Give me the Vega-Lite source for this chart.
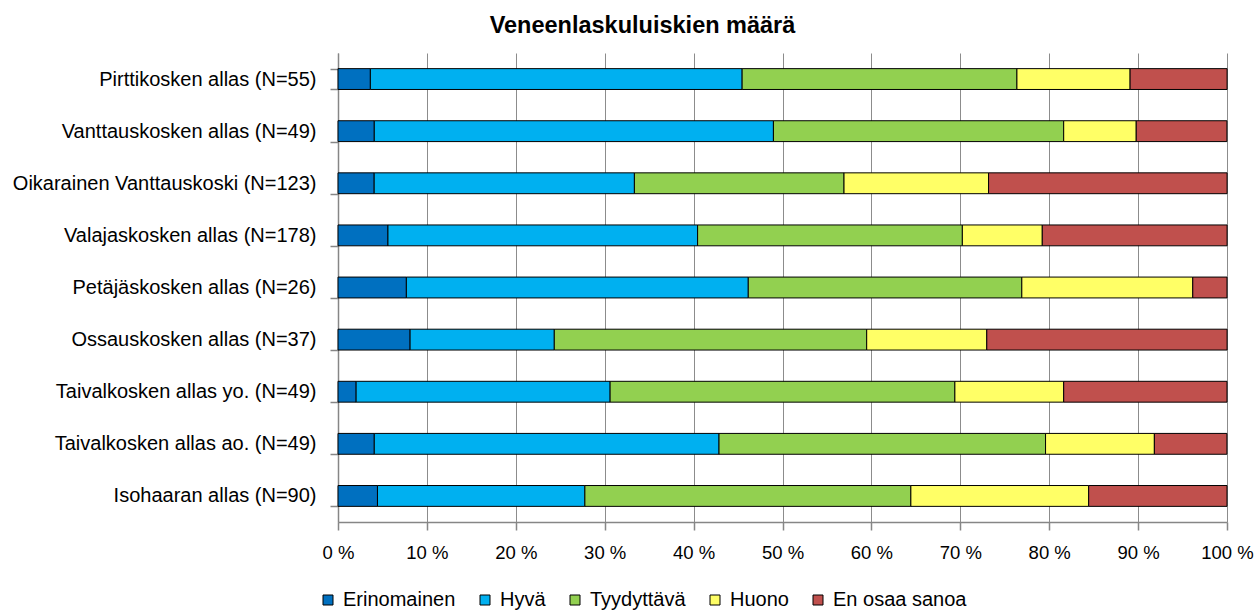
{
  "$schema": "https://vega.github.io/schema/vega-lite/v6.json",
  "width": 889,
  "height": 469,
  "autosize": {"type": "none"},
  "padding": {"left": 338, "top": 53, "right": 30, "bottom": 90},
  "background": "white",
  "config": {
    "font": "Liberation Sans",
    "view": {"stroke": null}
  },
  "title": {
    "text": "Veneenlaskuluiskien määrä",
    "fontSize": 23.5,
    "fontWeight": "bold",
    "font": "Liberation Sans",
    "color": "#000000",
    "anchor": "middle",
    "frame": "group",
    "dx": -140,
    "offset": 6
  },
  "data": {
    "values": [
      {"alue": "Pirttikosken allas (N=55)", "luokka": "Erinomainen", "j": 1, "pct": 3.64},
      {"alue": "Pirttikosken allas (N=55)", "luokka": "Hyvä", "j": 2, "pct": 41.82},
      {"alue": "Pirttikosken allas (N=55)", "luokka": "Tyydyttävä", "j": 3, "pct": 30.91},
      {"alue": "Pirttikosken allas (N=55)", "luokka": "Huono", "j": 4, "pct": 12.73},
      {"alue": "Pirttikosken allas (N=55)", "luokka": "En osaa sanoa", "j": 5, "pct": 10.91},
      {"alue": "Vanttauskosken allas (N=49)", "luokka": "Erinomainen", "j": 1, "pct": 4.08},
      {"alue": "Vanttauskosken allas (N=49)", "luokka": "Hyvä", "j": 2, "pct": 44.90},
      {"alue": "Vanttauskosken allas (N=49)", "luokka": "Tyydyttävä", "j": 3, "pct": 32.65},
      {"alue": "Vanttauskosken allas (N=49)", "luokka": "Huono", "j": 4, "pct": 8.16},
      {"alue": "Vanttauskosken allas (N=49)", "luokka": "En osaa sanoa", "j": 5, "pct": 10.20},
      {"alue": "Oikarainen Vanttauskoski (N=123)", "luokka": "Erinomainen", "j": 1, "pct": 4.07},
      {"alue": "Oikarainen Vanttauskoski (N=123)", "luokka": "Hyvä", "j": 2, "pct": 29.27},
      {"alue": "Oikarainen Vanttauskoski (N=123)", "luokka": "Tyydyttävä", "j": 3, "pct": 23.58},
      {"alue": "Oikarainen Vanttauskoski (N=123)", "luokka": "Huono", "j": 4, "pct": 16.26},
      {"alue": "Oikarainen Vanttauskoski (N=123)", "luokka": "En osaa sanoa", "j": 5, "pct": 26.83},
      {"alue": "Valajaskosken allas (N=178)", "luokka": "Erinomainen", "j": 1, "pct": 5.62},
      {"alue": "Valajaskosken allas (N=178)", "luokka": "Hyvä", "j": 2, "pct": 34.83},
      {"alue": "Valajaskosken allas (N=178)", "luokka": "Tyydyttävä", "j": 3, "pct": 29.78},
      {"alue": "Valajaskosken allas (N=178)", "luokka": "Huono", "j": 4, "pct": 8.99},
      {"alue": "Valajaskosken allas (N=178)", "luokka": "En osaa sanoa", "j": 5, "pct": 20.79},
      {"alue": "Petäjäskosken allas (N=26)", "luokka": "Erinomainen", "j": 1, "pct": 7.69},
      {"alue": "Petäjäskosken allas (N=26)", "luokka": "Hyvä", "j": 2, "pct": 38.46},
      {"alue": "Petäjäskosken allas (N=26)", "luokka": "Tyydyttävä", "j": 3, "pct": 30.77},
      {"alue": "Petäjäskosken allas (N=26)", "luokka": "Huono", "j": 4, "pct": 19.23},
      {"alue": "Petäjäskosken allas (N=26)", "luokka": "En osaa sanoa", "j": 5, "pct": 3.85},
      {"alue": "Ossauskosken allas (N=37)", "luokka": "Erinomainen", "j": 1, "pct": 8.11},
      {"alue": "Ossauskosken allas (N=37)", "luokka": "Hyvä", "j": 2, "pct": 16.22},
      {"alue": "Ossauskosken allas (N=37)", "luokka": "Tyydyttävä", "j": 3, "pct": 35.14},
      {"alue": "Ossauskosken allas (N=37)", "luokka": "Huono", "j": 4, "pct": 13.51},
      {"alue": "Ossauskosken allas (N=37)", "luokka": "En osaa sanoa", "j": 5, "pct": 27.03},
      {"alue": "Taivalkosken allas yo. (N=49)", "luokka": "Erinomainen", "j": 1, "pct": 2.04},
      {"alue": "Taivalkosken allas yo. (N=49)", "luokka": "Hyvä", "j": 2, "pct": 28.57},
      {"alue": "Taivalkosken allas yo. (N=49)", "luokka": "Tyydyttävä", "j": 3, "pct": 38.78},
      {"alue": "Taivalkosken allas yo. (N=49)", "luokka": "Huono", "j": 4, "pct": 12.24},
      {"alue": "Taivalkosken allas yo. (N=49)", "luokka": "En osaa sanoa", "j": 5, "pct": 18.37},
      {"alue": "Taivalkosken allas ao. (N=49)", "luokka": "Erinomainen", "j": 1, "pct": 4.08},
      {"alue": "Taivalkosken allas ao. (N=49)", "luokka": "Hyvä", "j": 2, "pct": 38.78},
      {"alue": "Taivalkosken allas ao. (N=49)", "luokka": "Tyydyttävä", "j": 3, "pct": 36.73},
      {"alue": "Taivalkosken allas ao. (N=49)", "luokka": "Huono", "j": 4, "pct": 12.24},
      {"alue": "Taivalkosken allas ao. (N=49)", "luokka": "En osaa sanoa", "j": 5, "pct": 8.16},
      {"alue": "Isohaaran allas (N=90)", "luokka": "Erinomainen", "j": 1, "pct": 4.44},
      {"alue": "Isohaaran allas (N=90)", "luokka": "Hyvä", "j": 2, "pct": 23.33},
      {"alue": "Isohaaran allas (N=90)", "luokka": "Tyydyttävä", "j": 3, "pct": 36.67},
      {"alue": "Isohaaran allas (N=90)", "luokka": "Huono", "j": 4, "pct": 20.00},
      {"alue": "Isohaaran allas (N=90)", "luokka": "En osaa sanoa", "j": 5, "pct": 15.56}
    ]
  },
  "mark": {"type": "bar", "stroke": "#000000", "strokeWidth": 1},
  "encoding": {
    "y": {
      "field": "alue",
      "type": "nominal",
      "sort": null,
      "title": null,
      "scale": {"paddingInner": 0.6, "paddingOuter": 0.3},
      "axis": {
        "labelFont": "Liberation Sans",
        "labelFontSize": 20,
        "labelColor": "#000000",
        "labelPadding": 14,
        "ticks": true,
        "tickBand": "extent",
        "tickSize": 8,
        "tickColor": "#868686",
        "tickWidth": 1.5,
        "domainColor": "#868686",
        "domainWidth": 1.5,
        "grid": false,
        "labelLimit": 400
      }
    },
    "x": {
      "field": "pct",
      "type": "quantitative",
      "stack": "zero",
      "title": null,
      "scale": {"domain": [0, 100], "nice": false},
      "axis": {
        "values": [0, 10, 20, 30, 40, 50, 60, 70, 80, 90, 100],
        "labelExpr": "datum.value + ' %'",
        "labelFont": "Liberation Sans",
        "labelFontSize": 18.5,
        "labelColor": "#000000",
        "labelPadding": 13,
        "tickSize": 8,
        "tickColor": "#868686",
        "tickWidth": 1.5,
        "domainColor": "#868686",
        "domainWidth": 1.5,
        "grid": true,
        "gridColor": "#8c8c8c",
        "gridWidth": 1,
        "labelFlush": false
      }
    },
    "color": {
      "field": "luokka",
      "type": "nominal",
      "title": null,
      "sort": ["Erinomainen", "Hyvä", "Tyydyttävä", "Huono", "En osaa sanoa"],
      "scale": {
        "domain": ["Erinomainen", "Hyvä", "Tyydyttävä", "Huono", "En osaa sanoa"],
        "range": ["#0070C0", "#00B0F0", "#92D050", "#FFFF66", "#C0504D"]
      },
      "legend": {
        "orient": "none",
        "legendX": -20,
        "legendY": 537,
        "direction": "horizontal",
        "symbolType": "square",
        "symbolSize": 100,
        "symbolStrokeColor": "#000000",
        "symbolStrokeWidth": 1,
        "symbolOpacity": 1,
        "labelFont": "Liberation Sans",
        "labelFontSize": 20,
        "labelColor": "#000000",
        "labelOffset": 5,
        "columnPadding": 19,
        "labelLimit": 300
      }
    },
    "order": {"field": "j", "type": "quantitative"}
  }
}
